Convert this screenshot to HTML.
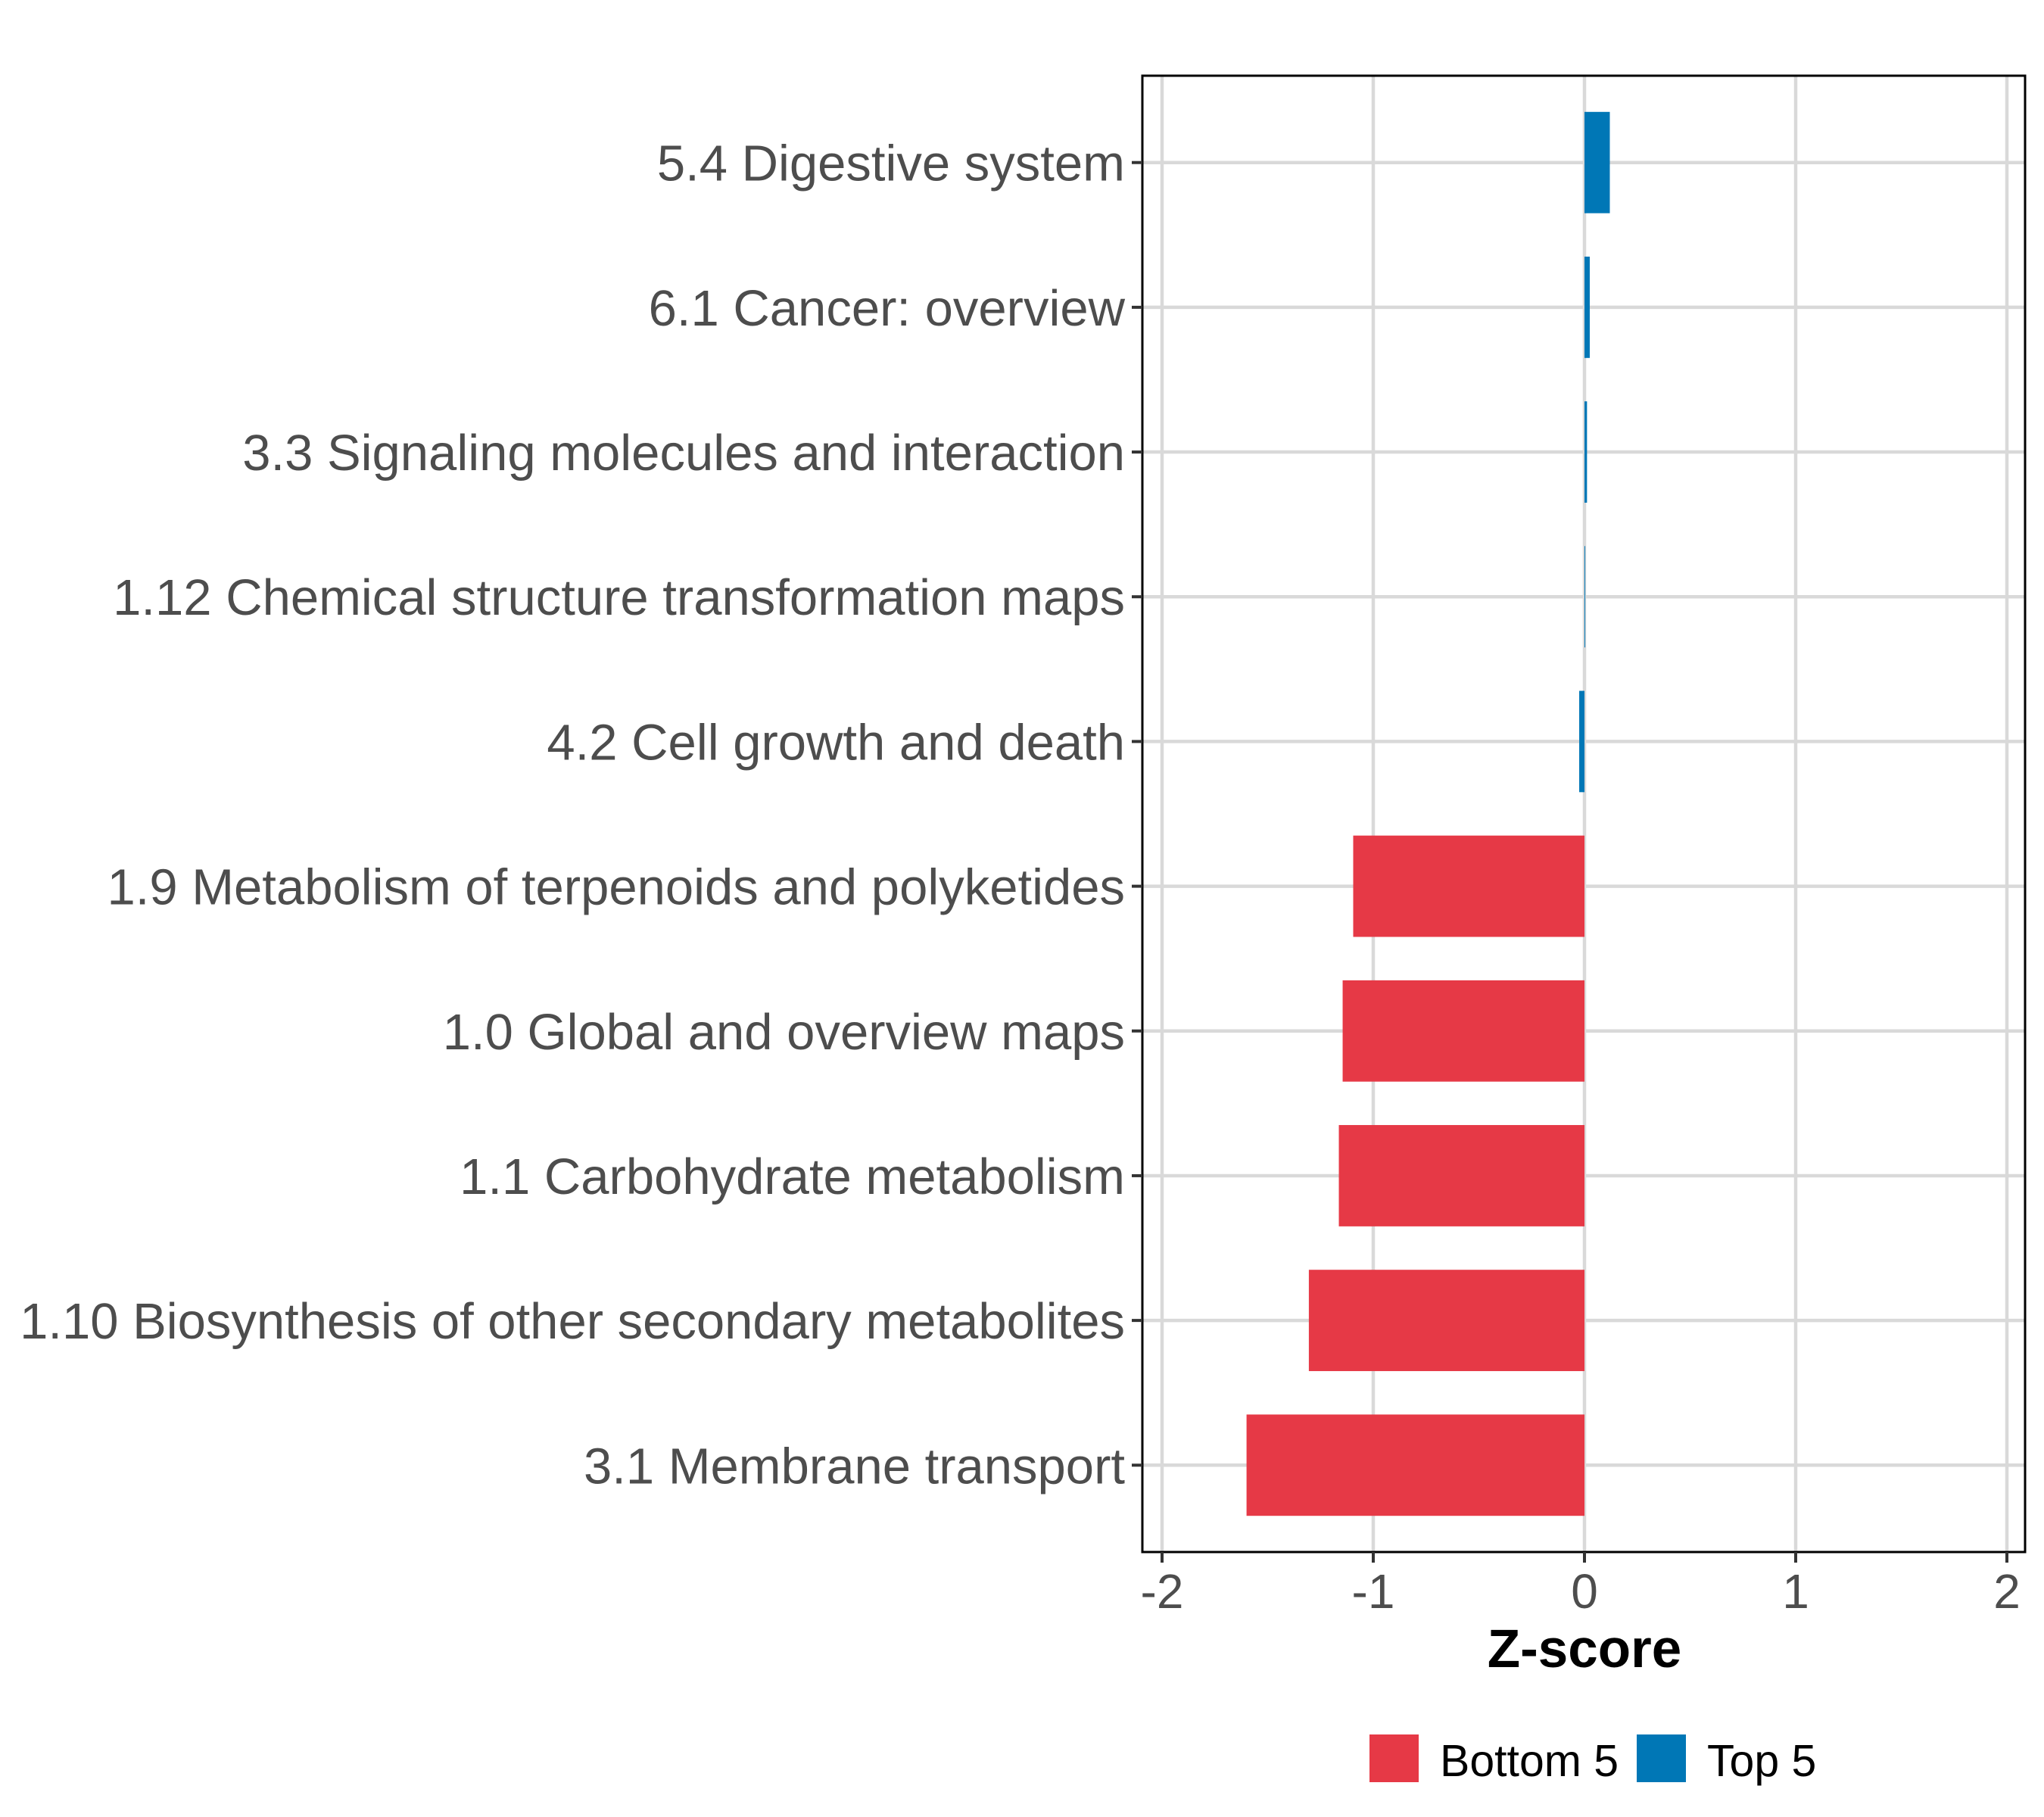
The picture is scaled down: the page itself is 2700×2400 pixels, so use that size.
<!DOCTYPE html>
<html><head><meta charset="utf-8"><style>html,body{margin:0;padding:0;background:#fff}svg{display:block}</style></head>
<body>
<svg id="chart" width="2700" height="2400" xmlns="http://www.w3.org/2000/svg" font-family="Liberation Sans, Arial, sans-serif">
<rect width="2700" height="2400" fill="#fff"/>
<g id="grid"></g>
<g id="bars"></g>
<rect x="1509" y="100" width="1166" height="1950" fill="none" stroke="#000" stroke-width="3"/>
<g id="ylabels"></g>
<g id="xlabels"></g>
<text x="2093" y="2202" text-anchor="middle" font-size="71" font-weight="bold" fill="#000">Z-score</text>
<g>
<rect x="1809" y="2291" width="65" height="63" fill="#e63946"/>
<text x="1902" y="2346" font-size="59" fill="#000">Bottom 5</text>
<rect x="2162" y="2291" width="65" height="63" fill="#0077b6"/>
<text x="2255" y="2346" font-size="59" fill="#000">Top 5</text>
</g>
</svg>
<script>
const categories = ["5.4 Digestive system","6.1 Cancer: overview","3.3 Signaling molecules and interaction","1.12 Chemical structure transformation maps","4.2 Cell growth and death","1.9 Metabolism of terpenoids and polyketides","1.0 Global and overview maps","1.1 Carbohydrate metabolism","1.10 Biosynthesis of other secondary metabolites","3.1 Membrane transport"];
const zscores = [0.12, 0.025, 0.012, 0.003, -0.025, -1.095, -1.145, -1.163, -1.305, -1.6];
const groups = ["Top 5","Top 5","Top 5","Top 5","Top 5","Bottom 5","Bottom 5","Bottom 5","Bottom 5","Bottom 5"];
const xTicks = [-2, -1, 0, 1, 2];
const xTickLabels = ["-2","-1","0","1","2"];

const NS = "http://www.w3.org/2000/svg";
const panel = {l:1509, r:2675, t:100, b:2050};
const x = v => 2093 + v * 279;
const band = (panel.b - panel.t) / (categories.length + 0.2);
const y = i => panel.t + band * (0.6 + i);
function mk(tag, attrs, parent){ const e = document.createElementNS(NS, tag); for (const k in attrs) e.setAttribute(k, attrs[k]); parent.appendChild(e); return e; }
const grid = document.getElementById('grid'), bars = document.getElementById('bars'), yl = document.getElementById('ylabels'), xl = document.getElementById('xlabels');
xTicks.forEach((t, i) => {
  const g = mk('line', {x1:x(t), x2:x(t), y1:panel.t, y2:panel.b, stroke:'#d9d9d9', 'stroke-width':4.5}, grid);
  
  
  const tk = mk('line', {x1:x(t), x2:x(t), y1:panel.b, y2:panel.b+14, stroke:'#333', 'stroke-width':4}, xl);
  
  
  const tx = mk('text', {x:x(t), y:2124, 'text-anchor':'middle', 'font-size':64, fill:'#4d4d4d'}, xl);
  tx.textContent = xTickLabels[i];
  
  
});
categories.forEach((c, i) => {
  const cy = y(i);
  const g = mk('line', {x1:panel.l, x2:panel.r, y1:cy, y2:cy, stroke:'#d9d9d9', 'stroke-width':4.5}, grid);
  
  
  const v = zscores[i];
  const h = band * 0.7;
  const r = mk('rect', {x:Math.min(x(0), x(v)), y:cy - h/2, width:Math.max(Math.abs(x(v) - x(0)), 1), height:h, fill: groups[i] === 'Top 5' ? '#0077b6' : '#e63946'}, bars);
  
  
  const tk = mk('line', {x1:panel.l-14, x2:panel.l, y1:cy, y2:cy, stroke:'#333', 'stroke-width':4}, yl);
  
  
  const tx = mk('text', {x:1486, y:cy + 24, 'text-anchor':'end', 'font-size':67, fill:'#4d4d4d'}, yl);
  tx.textContent = c;
  
  
});
</script>
</body></html>
